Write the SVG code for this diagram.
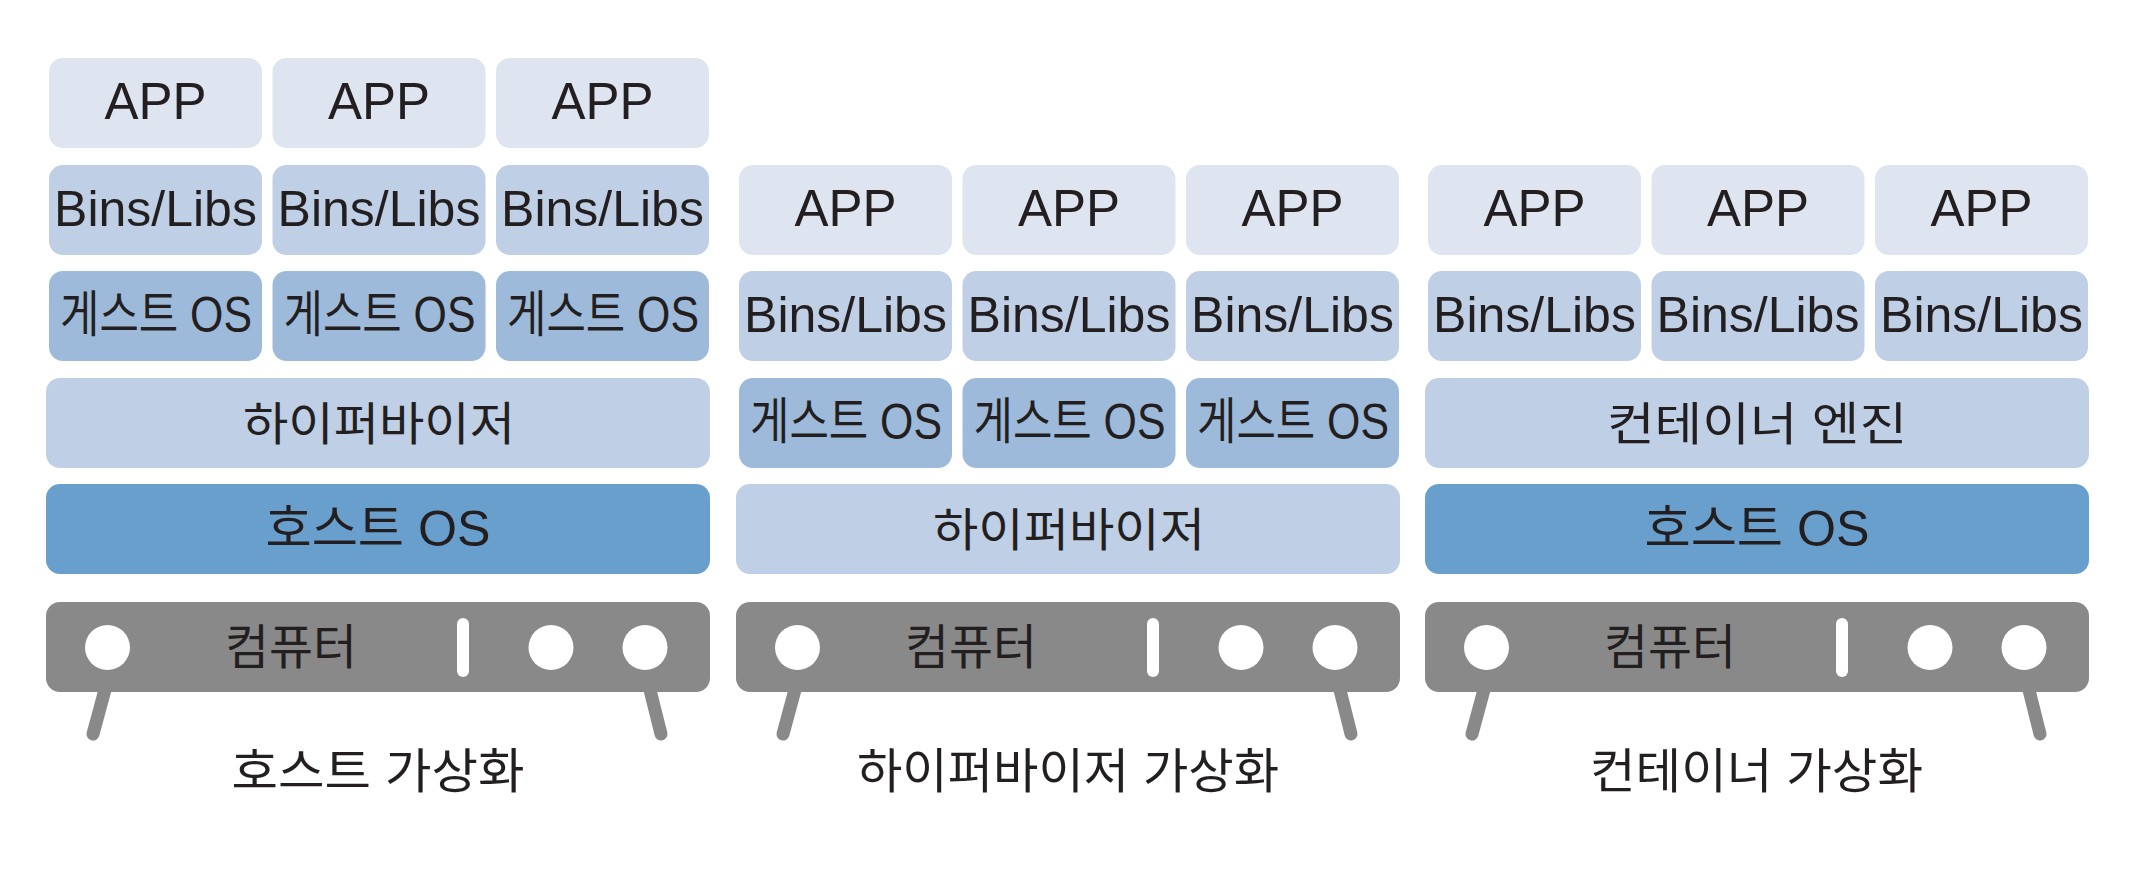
<svg xmlns="http://www.w3.org/2000/svg" width="2134" height="878" viewBox="0 0 2134 878">
<style>
text{font-family:'Liberation Sans','Noto Sans CJK KR',sans-serif;fill:#231f20}
.lat{font-size:51px;text-anchor:middle}
.kr{font-size:46px}
.gos{font-size:50px}
.app{fill:#dfe5f0}
.bins{fill:#bfcfe5}
.guest{fill:#9dbadb}
.hyp{fill:#bfcfe5}
.host{fill:#699fcc}
.pc{fill:#898989}
.leg{stroke:#898989;stroke-width:13;stroke-linecap:round;fill:none}
.hole{fill:#ffffff}
</style>
<rect width="2134" height="878" fill="#ffffff"/>

<!-- Column 1: host virtualization -->
<g id="c1-app1"><rect class="app" x="49" y="58" width="213" height="90" rx="14"/><text class="lat" x="155.5" y="119">APP</text></g>
<g id="c1-app2"><rect class="app" x="272.5" y="58" width="213" height="90" rx="14"/><text class="lat" x="379" y="119">APP</text></g>
<g id="c1-app3"><rect class="app" x="496" y="58" width="213" height="90" rx="14"/><text class="lat" x="602.5" y="119">APP</text></g>
<g id="c1-bins1"><rect class="bins" x="49" y="165" width="213" height="90" rx="14"/><text class="lat" style="font-size:50px" x="155.5" y="226">Bins/Libs</text></g>
<g id="c1-bins2"><rect class="bins" x="272.5" y="165" width="213" height="90" rx="14"/><text class="lat" style="font-size:50px" x="379" y="226">Bins/Libs</text></g>
<g id="c1-bins3"><rect class="bins" x="496" y="165" width="213" height="90" rx="14"/><text class="lat" style="font-size:50px" x="602.5" y="226">Bins/Libs</text></g>
<g id="c1-guest1"><rect class="guest" x="49" y="271" width="213" height="90" rx="14"/><text class="gos" x="60" y="332" textLength="192" lengthAdjust="spacingAndGlyphs">게스트 OS</text></g>
<g id="c1-guest2"><rect class="guest" x="272.5" y="271" width="213" height="90" rx="14"/><text class="gos" x="283.5" y="332" textLength="192" lengthAdjust="spacingAndGlyphs">게스트 OS</text></g>
<g id="c1-guest3"><rect class="guest" x="496" y="271" width="213" height="90" rx="14"/><text class="gos" x="507" y="332" textLength="192" lengthAdjust="spacingAndGlyphs">게스트 OS</text></g>
<g id="c1-hypervisor"><rect class="hyp" x="46" y="378" width="664" height="90" rx="14"/><text class="kr" x="243" y="440" textLength="272" lengthAdjust="spacingAndGlyphs">하이퍼바이저</text></g>
<g id="c1-hostos"><rect class="host" x="46" y="484" width="664" height="90" rx="14"/><text class="kr" style="font-size:50px" x="265.5" y="546" textLength="225" lengthAdjust="spacingAndGlyphs">호스트 OS</text></g>
<g id="c1-computer">
<line class="leg" x1="106" y1="686" x2="93" y2="734"/>
<line class="leg" x1="649" y1="686" x2="661" y2="734"/>
<rect class="pc" x="46" y="602" width="664" height="90" rx="14"/>
<circle class="hole" cx="107.5" cy="647.5" r="22.5"/>
<rect class="hole" x="457" y="618" width="12" height="59" rx="6"/>
<circle class="hole" cx="551" cy="647.5" r="22.5"/>
<circle class="hole" cx="645" cy="647.5" r="22.5"/>
<text class="kr" style="font-size:48px" x="225" y="664" textLength="132" lengthAdjust="spacingAndGlyphs">컴퓨터</text>
</g>
<g id="c1-label"><text class="kr" style="font-size:48px" x="231.5" y="788" textLength="293" lengthAdjust="spacingAndGlyphs">호스트 가상화</text></g>

<!-- Column 2: hypervisor virtualization -->
<g id="c2-app1"><rect class="app" x="739" y="165" width="213" height="90" rx="14"/><text class="lat" x="845.5" y="226">APP</text></g>
<g id="c2-app2"><rect class="app" x="962.5" y="165" width="213" height="90" rx="14"/><text class="lat" x="1069" y="226">APP</text></g>
<g id="c2-app3"><rect class="app" x="1186" y="165" width="213" height="90" rx="14"/><text class="lat" x="1292.5" y="226">APP</text></g>
<g id="c2-bins1"><rect class="bins" x="739" y="271" width="213" height="90" rx="14"/><text class="lat" style="font-size:50px" x="845.5" y="332">Bins/Libs</text></g>
<g id="c2-bins2"><rect class="bins" x="962.5" y="271" width="213" height="90" rx="14"/><text class="lat" style="font-size:50px" x="1069" y="332">Bins/Libs</text></g>
<g id="c2-bins3"><rect class="bins" x="1186" y="271" width="213" height="90" rx="14"/><text class="lat" style="font-size:50px" x="1292.5" y="332">Bins/Libs</text></g>
<g id="c2-guest1"><rect class="guest" x="739" y="378" width="213" height="90" rx="14"/><text class="gos" x="750" y="439" textLength="192" lengthAdjust="spacingAndGlyphs">게스트 OS</text></g>
<g id="c2-guest2"><rect class="guest" x="962.5" y="378" width="213" height="90" rx="14"/><text class="gos" x="973.5" y="439" textLength="192" lengthAdjust="spacingAndGlyphs">게스트 OS</text></g>
<g id="c2-guest3"><rect class="guest" x="1186" y="378" width="213" height="90" rx="14"/><text class="gos" x="1197" y="439" textLength="192" lengthAdjust="spacingAndGlyphs">게스트 OS</text></g>
<g id="c2-hypervisor"><rect class="hyp" x="736" y="484" width="664" height="90" rx="14"/><text class="kr" x="933" y="546" textLength="272" lengthAdjust="spacingAndGlyphs">하이퍼바이저</text></g>
<g id="c2-computer">
<line class="leg" x1="796" y1="686" x2="783" y2="734"/>
<line class="leg" x1="1339" y1="686" x2="1351" y2="734"/>
<rect class="pc" x="736" y="602" width="664" height="90" rx="14"/>
<circle class="hole" cx="797.5" cy="647.5" r="22.5"/>
<rect class="hole" x="1147" y="618" width="12" height="59" rx="6"/>
<circle class="hole" cx="1241" cy="647.5" r="22.5"/>
<circle class="hole" cx="1335" cy="647.5" r="22.5"/>
<text class="kr" style="font-size:48px" x="905" y="664" textLength="132" lengthAdjust="spacingAndGlyphs">컴퓨터</text>
</g>
<g id="c2-label"><text class="kr" style="font-size:48px" x="857" y="788" textLength="422" lengthAdjust="spacingAndGlyphs">하이퍼바이저 가상화</text></g>

<!-- Column 3: container virtualization -->
<g id="c3-app1"><rect class="app" x="1428" y="165" width="213" height="90" rx="14"/><text class="lat" x="1534.5" y="226">APP</text></g>
<g id="c3-app2"><rect class="app" x="1651.5" y="165" width="213" height="90" rx="14"/><text class="lat" x="1758" y="226">APP</text></g>
<g id="c3-app3"><rect class="app" x="1875" y="165" width="213" height="90" rx="14"/><text class="lat" x="1981.5" y="226">APP</text></g>
<g id="c3-bins1"><rect class="bins" x="1428" y="271" width="213" height="90" rx="14"/><text class="lat" style="font-size:50px" x="1534.5" y="332">Bins/Libs</text></g>
<g id="c3-bins2"><rect class="bins" x="1651.5" y="271" width="213" height="90" rx="14"/><text class="lat" style="font-size:50px" x="1758" y="332">Bins/Libs</text></g>
<g id="c3-bins3"><rect class="bins" x="1875" y="271" width="213" height="90" rx="14"/><text class="lat" style="font-size:50px" x="1981.5" y="332">Bins/Libs</text></g>
<g id="c3-engine"><rect class="hyp" x="1425" y="378" width="664" height="90" rx="14"/><text class="kr" x="1607" y="440" textLength="300" lengthAdjust="spacingAndGlyphs">컨테이너 엔진</text></g>
<g id="c3-hostos"><rect class="host" x="1425" y="484" width="664" height="90" rx="14"/><text class="kr" style="font-size:50px" x="1644.5" y="546" textLength="225" lengthAdjust="spacingAndGlyphs">호스트 OS</text></g>
<g id="c3-computer">
<line class="leg" x1="1485" y1="686" x2="1472" y2="734"/>
<line class="leg" x1="2028" y1="686" x2="2040" y2="734"/>
<rect class="pc" x="1425" y="602" width="664" height="90" rx="14"/>
<circle class="hole" cx="1486.5" cy="647.5" r="22.5"/>
<rect class="hole" x="1836" y="618" width="12" height="59" rx="6"/>
<circle class="hole" cx="1930" cy="647.5" r="22.5"/>
<circle class="hole" cx="2024" cy="647.5" r="22.5"/>
<text class="kr" style="font-size:48px" x="1604" y="664" textLength="132" lengthAdjust="spacingAndGlyphs">컴퓨터</text>
</g>
<g id="c3-label"><text class="kr" style="font-size:48px" x="1590" y="788" textLength="333" lengthAdjust="spacingAndGlyphs">컨테이너 가상화</text></g>

<g id="connectors"></g>
</svg>
